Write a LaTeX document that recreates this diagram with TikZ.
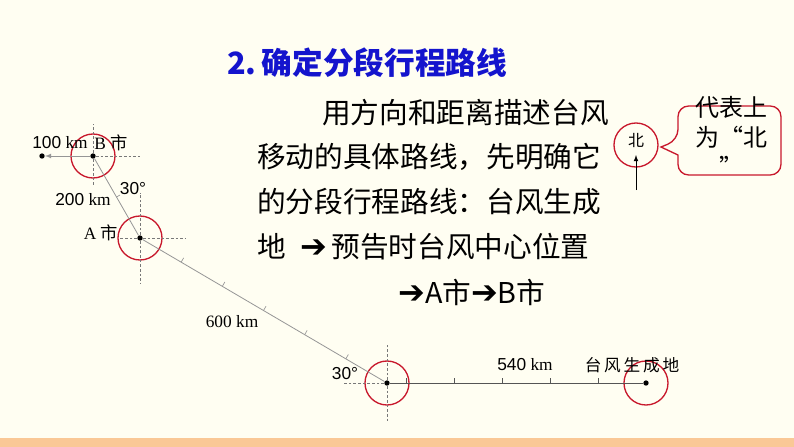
\documentclass[tikz,border=0pt]{standalone}
\usepackage{fontspec}
\usepackage{tikz}
\usetikzlibrary{calc}
\setmainfont{Liberation Serif}
\newfontfamily\sansnum{Liberation Sans}
\newfontfamily\cjk{Noto Sans CJK SC}
\newfontfamily\symfont{DejaVu Sans}
\newcommand{\goesto}{{\symfont\fontsize{24}{26}\selectfont ➔}}
\definecolor{bgclr}{RGB}{255,254,242}
\definecolor{barclr}{RGB}{250,200,150}
\definecolor{ringclr}{RGB}{200,25,45}
\definecolor{titleclr}{RGB}{20,20,205}
\definecolor{routeclr}{RGB}{150,150,150}
\definecolor{baseclr}{RGB}{85,85,85}
\definecolor{guideclr}{RGB}{120,120,120}
\tikzset{ %
  ,>=latex
  ,dot/.style={circle, fill=black, inner sep=0, minimum size=4pt}
  ,ring/.style={circle, draw=ringclr, line width=1pt, inner sep=0, minimum size=33pt}
  ,guide/.style={draw=guideclr, dash pattern=on 2pt off 1.5pt, line width=0.5pt}
  ,route/.style={draw=routeclr, line width=0.6pt}
  ,tick/.style={line width=0.5pt}
  ,lbl/.style={inner sep=0, font=\fontsize{13}{15}\selectfont}
  ,body/.style={anchor=west, inner sep=0, font=\cjk\fontsize{21.5}{26}\selectfont}
}
\begin{document}
\begin{tikzpicture}[x=0.75pt,y=-0.75pt]
  \useasboundingbox (0,0) rectangle (794,447);
  \fill[bgclr] (0,0) rectangle (794,447);
  \fill[barclr] (0,438) rectangle (794,447);

  % title and text
  \node[anchor=west, inner sep=0, text=titleclr, font=\cjk\bfseries\fontsize{23}{26}\selectfont] (title) at (227,63) {2.\,确定分段行程路线};
  \node[body] (l1) at (322,113) {用方向和距离描述台风};
  \node[body] (l2) at (257,157) {移动的具体路线，先明确它};
  \node[body] (l3) at (257,202) {的分段行程路线：台风生成};
  \node[body] (l4) at (257,247) {地\hspace{11pt}\goesto\hspace{3pt}预告时台风中心位置};
  \node[body] (l5) at (398,292) {\goesto A市\goesto B市};

  % points of the route
  \node[dot] (gen) at (646,383) {};
  \node[dot] (fc) at (387,383) {};
  \node[dot] (A) at (140,238) {};
  \node[dot] (B) at (93,156) {};
  \node[dot] (west) at (42,156) {};
  \foreach \p in {gen,fc,A,B}
    \node[ring] at (\p) {};

  % guides
  \draw[guide] (B) -- ++(0,-32) (B) -- ++(0,30) (B) -- ++(47,0);
  \draw[guide] (A) -- ++(0,-45) (A) -- ++(0,45) (A) -- ++(-20,0) (A) -- ++(45,0);
  \draw[guide] (fc) -- ++(0,-38) (fc) -- ++(0,40) (fc) -- ++(-44,0);

  % route
  \draw[draw=baseclr, line width=0.7pt] (gen) -- (fc);
  \draw[route] (fc) -- (A) -- (B);
  \draw[route,->] (B) -- (west);
  \foreach \k in {1,...,5}
    \draw[tick, baseclr] ($(gen)!\k*100/540!(fc)$) -- ++(0,-5);
  \foreach \k in {1,...,5}
    \draw[tick, routeclr] ($(A)!\k/6!(fc)$) -- ++(2.5,-4.3);
  \draw[tick, routeclr] ($(A)!0.5!(B)$) -- ++(3.5,-2);

  % labels
  \node[lbl] (d100) at (60,143) {{\sansnum 100} km};
  \node[lbl] (nameB) at (111,143) {B {\cjk 市}};
  \node[lbl] (ang1) at (133,189) {\sansnum 30°};
  \node[lbl] (d200) at (83,200) {{\sansnum 200} km};
  \node[lbl] (nameA) at (101,233) {A {\cjk 市}};
  \node[lbl] (d600) at (232,322) {600 km};
  \node[lbl] (ang2) at (345,374) {\sansnum 30°};
  \node[lbl] (d540) at (525,365) {{\sansnum 540} km};
  \node[lbl, font=\cjk\fontsize{12.5}{15}\selectfont] (nameGen) at (632,365) {台\,风\,生\,成\,地};

  % north sign
  \node[circle, draw=ringclr, line width=1pt, minimum size=33pt, inner sep=0] (north) at (636,145) {};
  \node[inner sep=0, font=\cjk\fontsize{12}{14}\selectfont] (bei) at (636,140) {北};
  \coordinate (tail) at (636,190);
  \draw[->, line width=0.6pt] (tail) -- (636,155);
  \draw[ringclr, line width=1pt, rounded corners=8pt] (678,140) [sharp corners] -- (661,147) -- (678,155)
    [rounded corners=8pt] -- (678,175) -- (781,175) -- (781,106) -- (678,106) -- cycle;
  \node[align=center, inner sep=0, font=\cjk\fontsize{18}{22.5}\selectfont] (note) at (731,136) {代表上\\为“北\\”};
\end{tikzpicture}
\end{document}
